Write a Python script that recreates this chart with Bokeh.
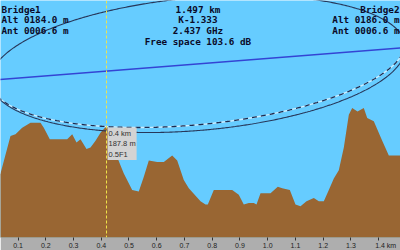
import numpy as np
from bokeh.plotting import figure
from bokeh.models import Range1d, FixedTicker, Label, Span
from bokeh.embed import file_html
from bokeh.resources import INLINE

# ---- data ----
PATH_KM = 1.497
FREQ_GHZ = 2.437
K_FACTOR = "K-1.333"
FREE_SPACE_DB = 103.6
SITE1 = "Bridge1"
SITE2 = "Bridge2"
ALT1_M = 184.0
ANT1_M = 6.6
ALT2_M = 186.0
ANT2_M = 6.6
CURSOR_KM = 0.419
CURSOR_M = 187.8
CURSOR_ZONE = "0.5F1"

DIST_KM = [0.000, 0.0368, 0.0728, 0.0908, 0.1150, 0.1449, 0.1810, 0.1929, 0.2145,
           0.2772, 0.2953, 0.3108, 0.3252, 0.3468, 0.3612, 0.3793, 0.3973, 0.4189,
           0.4369, 0.4575, 0.4813, 0.5115, 0.5353, 0.5534, 0.5714, 0.6017, 0.6255,
           0.6557, 0.6738, 0.6975, 0.7156, 0.7578, 0.7758, 0.7841, 0.8057, 0.8720,
           0.8958, 0.9138, 0.9319, 0.9499, 0.9596, 0.9741, 1.0101, 1.0364, 1.0523,
           1.0797, 1.1002, 1.1183, 1.1399, 1.1662, 1.1843, 1.2023, 1.2203, 1.2383,
           1.2563, 1.2744, 1.2924, 1.3046, 1.3237, 1.3464, 1.3587, 1.3825, 1.4128,
           1.4366, 1.4970]
HEIGHT_M = [184.0, 184.9, 187.2, 187.3, 187.7, 188.0, 188.0, 187.7, 187.0,
            187.0, 187.3, 186.8, 187.0, 186.4, 186.5, 186.9, 187.4, 187.8,
            187.4, 185.9, 184.9, 183.9, 183.8, 184.7, 185.7, 185.6, 185.6,
            186.0, 185.7, 184.5, 184.0, 183.2, 183.0, 183.0, 183.9, 183.9,
            183.6, 183.0, 183.1, 183.1, 183.0, 183.7, 183.7, 184.1, 184.0,
            183.9, 183.0, 182.9, 183.2, 183.4, 183.2, 183.2, 183.9, 184.6,
            185.1, 186.5, 188.5, 188.9, 188.7, 188.9, 188.3, 188.1, 186.9,
            186.0, 186.0]

# second (dashed) clearance curve: reference line end heights and zone fraction
DASH_END1_M = 190.6
DASH_END2_M = 192.9
DASH_ZONE = 0.57
SOLID_ZONE = 0.6

TICKS_KM = [0.1, 0.2, 0.3, 0.4, 0.5, 0.6, 0.7, 0.8, 0.9, 1.0, 1.1, 1.2, 1.3, 1.4]
TICK_LABELS = ["0.1", "0.2", "0.3", "0.4", "0.5", "0.6", "0.7", "0.8", "0.9",
               "1.0", "1.1", "1.2", "1.3", "\u2003\u20031.4 km"]

# ---- layout / style ----
X0, X1 = 0.0368, 1.4787
Y0, Y1 = 180.99, 195.48
FW, FH = 400, 237
SKY = "#66ccff"
GROUND = "#996633"
STRIP = "#aeaeae"
INK = "#0a0a28"
MONO = "DejaVu Sans Mono"


def row_to_m(row):
    return Y1 - row * (Y1 - Y0) / FH


def col_to_km(col):
    return X0 + col * (X1 - X0) / FW


p = figure(frame_width=FW, frame_height=FH,
           x_range=Range1d(X0, X1), y_range=Range1d(Y0, Y1),
           output_backend="svg", toolbar_location=None,
           y_axis_location=None, min_border=0,
           background_fill_color=SKY, border_fill_color=STRIP,
           outline_line_color=None)
p.grid.visible = False

ax = p.xaxis[0]
ax.ticker = FixedTicker(ticks=TICKS_KM)
ax.major_label_overrides = {t: s for t, s in zip(TICKS_KM, TICK_LABELS)}
ax.axis_line_color = None
ax.major_tick_line_color = "#333333"
ax.major_tick_in = 0
ax.major_tick_out = 3
ax.minor_tick_line_color = None
ax.major_label_standoff = 1
ax.major_label_text_font = "Liberation Sans"
ax.major_label_text_font_size = "7px"
ax.major_label_text_color = "#222222"

# terrain
p.varea(x=DIST_KM, y1=Y0 - 1, y2=HEIGHT_M, color=GROUND)

# line of sight and Fresnel curves
h1 = ALT1_M + ANT1_M
h2 = ALT2_M + ANT2_M
lam = 0.299792458 / FREQ_GHZ
d = np.linspace(0.0, PATH_KM, 301)
dm = d * 1000.0
Dm = PATH_KM * 1000.0
r1 = np.sqrt(lam * dm * (Dm - dm) / Dm)
los = h1 + (h2 - h1) * d / PATH_KM

upper = los + SOLID_ZONE * r1
lower = los - SOLID_ZONE * r1
ex = np.concatenate([d, d[::-1]])
ey = np.concatenate([upper, lower[::-1]])

los2 = DASH_END1_M + (DASH_END2_M - DASH_END1_M) * d / PATH_KM
dash_y = los2 - DASH_ZONE * r1

p.line(d, dash_y, line_color="#cdeeff", line_width=1.4)
p.line(d, dash_y, line_color="#1c2c52", line_width=1.3, line_dash="5 4")
p.line(ex, ey, line_color="#27375a", line_width=1.1)
p.line([0.0, PATH_KM], [h1, h2], line_color="#3444d4", line_width=1.4)

# cursor
p.add_layout(Span(location=CURSOR_KM, dimension="height", line_color="#f2e64a",
                  line_width=1, line_dash="3 2"))

p.add_layout(Label(x=CURSOR_KM, y=row_to_m(127), x_offset=1,
                   text=f"{CURSOR_KM:.1f} km\n{CURSOR_M:.1f} m\n{CURSOR_ZONE}",
                   text_font="Liberation Sans", text_font_size="7.5px",
                   text_color="#303030", text_align="left", text_baseline="top",
                   text_line_height=1.2,
                   background_fill_color="#d3d3d3", padding=1))

# header texts
rows = [8.7, 19.3, 29.9, 40.5]
left_lines = [SITE1, f"Alt {ALT1_M:06.1f} m", f"Ant {ANT1_M:06.1f} m"]
right_lines = [SITE2, f"Alt {ALT2_M:06.1f} m", f"Ant {ANT2_M:06.1f} m"]
mid_lines = [f"{PATH_KM:.3f} km", K_FACTOR, f"{FREQ_GHZ:.3f} GHz",
             f"Free space {FREE_SPACE_DB:.1f} dB"]


def put(x, row, txt, align):
    p.add_layout(Label(x=x, y=row_to_m(row), text=txt, text_font=MONO,
                       text_font_style="bold", text_font_size="9.3px",
                       text_color=INK, text_align=align,
                       text_baseline="alphabetic"))


for i, t in enumerate(left_lines):
    put(col_to_km(1), rows[i], t, "left")
for i, t in enumerate(right_lines):
    put(col_to_km(399), rows[i], t, "right")
for i, t in enumerate(mid_lines):
    put(PATH_KM / 2, rows[i], t, "center")

open("out.html", "w").write(file_html(p, INLINE))
